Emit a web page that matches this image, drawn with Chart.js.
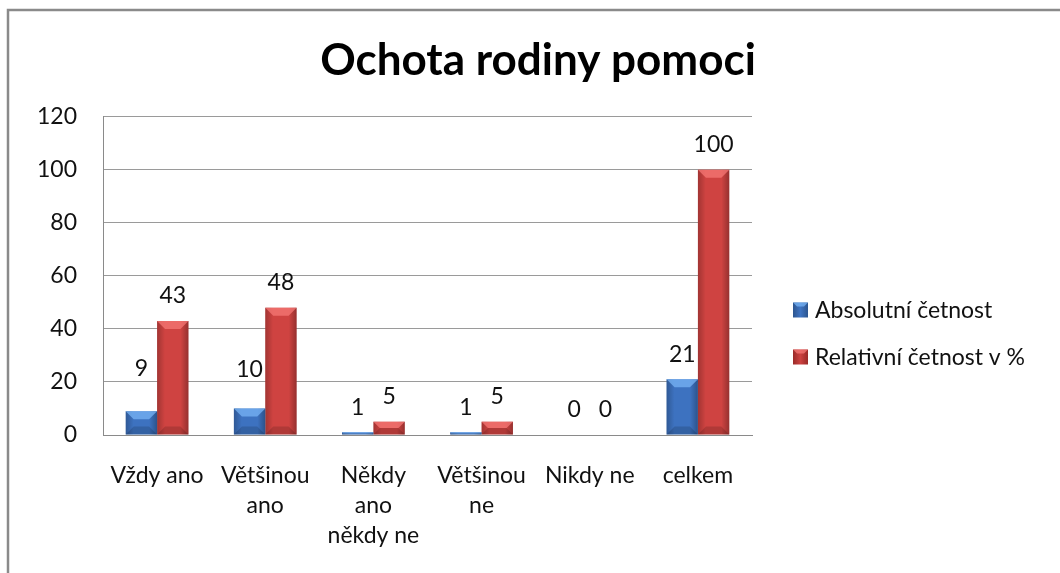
<!DOCTYPE html>
<html>
<head>
<meta charset="utf-8">
<script src="https://cdn.jsdelivr.net/npm/chart.js@4.4.0/dist/chart.umd.min.js"></script>
<style>
html,body{margin:0;padding:0;background:#fff;}
#wrap{width:1060px;height:573px;position:relative;}
</style>
</head>
<body>
<div id="wrap"><canvas id="c" width="1060" height="573"></canvas></div>
<script>
const titleText = "Ochota rodiny pomoci";
const categories = [["Vždy ano"], ["Většinou", "ano"], ["Někdy", "ano", "někdy ne"], ["Většinou", "ne"], ["Nikdy ne"], ["celkem"]];
const seriesNames = ["Absolutní četnost", "Relativní četnost v %"];
const absoluteValues = [9, 10, 1, 1, 0, 21];
const relativeValues = [43, 48, 5, 5, 0, 100];
const yTicks = [0, 20, 40, 60, 80, 100, 120];

const FONT = "Lato, 'Open Sans', sans-serif";
const TXT = 23;

const framePlugin = {
  id: 'frame',
  beforeDraw(chart) {
    const ctx = chart.ctx;
    ctx.save();
    ctx.fillStyle = '#ffffff';
    ctx.fillRect(0, 0, chart.width, chart.height);
    ctx.strokeStyle = '#8a8a8a';
    ctx.lineWidth = 2.5;
    ctx.beginPath();
    ctx.moveTo(8, chart.height + 5);
    ctx.lineTo(8, 10);
    ctx.lineTo(chart.width + 5, 10);
    ctx.stroke();
    ctx.restore();
  }
};

const bevelPlugin = {
  id: 'bevel',
  afterDatasetsDraw(chart) {
    const ctx = chart.ctx;
    ctx.save();
    chart.data.datasets.forEach((ds, di) => {
      const meta = chart.getDatasetMeta(di);
      meta.data.forEach((el) => {
        const p = el.getProps(['x', 'y', 'base', 'width'], true);
        const h = p.base - p.y;
        if (h <= 0.5) return;
        const x0 = p.x - p.width / 2, x1 = p.x + p.width / 2;
        // side shading
        const g = ctx.createLinearGradient(x0, 0, x1, 0);
        g.addColorStop(0, 'rgba(0,0,0,0.22)');
        g.addColorStop(0.25, 'rgba(0,0,0,0)');
        g.addColorStop(0.75, 'rgba(0,0,0,0)');
        g.addColorStop(1, 'rgba(0,0,0,0.28)');
        ctx.fillStyle = g;
        ctx.fillRect(x0, p.y, p.width, h);
        const b = Math.min(8, h / 2);
        // top bevel
        ctx.fillStyle = ds.topColor;
        ctx.beginPath();
        ctx.moveTo(x0, p.y);
        ctx.lineTo(x1, p.y);
        ctx.lineTo(x1 - b, p.y + b);
        ctx.lineTo(x0 + b, p.y + b);
        ctx.closePath();
        ctx.fill();
        // bottom bevel
        ctx.fillStyle = 'rgba(0,0,0,0.15)';
        ctx.beginPath();
        ctx.moveTo(x0, p.base);
        ctx.lineTo(x1, p.base);
        ctx.lineTo(x1 - b, p.base - b);
        ctx.lineTo(x0 + b, p.base - b);
        ctx.closePath();
        ctx.fill();
      });
    });
    ctx.restore();
  }
};

const labelPlugin = {
  id: 'valueLabels',
  afterDatasetsDraw(chart, args, opts) {
    const ctx = chart.ctx;
    ctx.save();
    ctx.font = TXT + 'px ' + FONT;
    ctx.fillStyle = '#111';
    ctx.textAlign = 'center';
    ctx.textBaseline = 'middle';
    chart.data.datasets.forEach((ds, di) => {
      const meta = chart.getDatasetMeta(di);
      meta.data.forEach((el, i) => {
        const lift = (opts.extraLift && opts.extraLift[di] && opts.extraLift[di][i]) || 0;
        ctx.fillText(String(ds.data[i]), el.x, el.y - 25 - lift);
      });
    });
    ctx.restore();
  }
};

const legendPlugin = {
  id: 'sideLegend',
  afterDraw(chart, args, opts) {
    const ctx = chart.ctx;
    ctx.save();
    ctx.font = TXT + 'px ' + FONT;
    ctx.textBaseline = 'middle';
    ctx.textAlign = 'left';
    chart.data.datasets.forEach((ds, i) => {
      const cy = opts.y + i * opts.gap;
      const bx = opts.x;
      const g = ctx.createLinearGradient(bx, 0, bx + 15, 0);
      g.addColorStop(0, ds.edgeColor);
      g.addColorStop(0.5, ds.mainColor);
      g.addColorStop(1, ds.edgeColor);
      ctx.fillStyle = g;
      ctx.fillRect(bx, cy - 7.5, 15, 15);
      ctx.fillStyle = ds.topColor;
      ctx.beginPath();
      ctx.moveTo(bx, cy - 7.5);
      ctx.lineTo(bx + 15, cy - 7.5);
      ctx.lineTo(bx + 11, cy - 3.5);
      ctx.lineTo(bx + 4, cy - 3.5);
      ctx.closePath();
      ctx.fill();
      ctx.fillStyle = '#111';
      ctx.fillText(ds.label, bx + 22, cy + 1);
    });
    ctx.restore();
  }
};

const ctx = document.getElementById('c').getContext('2d');
new Chart(ctx, {
  type: 'bar',
  data: {
    labels: categories,
    datasets: [
      {
        label: seriesNames[0],
        data: absoluteValues,
        mainColor: '#3f74c2', edgeColor: '#2c558f', topColor: 'rgba(120,180,245,0.75)',
        backgroundColor: '#3d72c0',
        borderColor: '#2f5c9c',
        borderWidth: 0,
        categoryPercentage: 0.58,
        barPercentage: 1.0
      },
      {
        label: seriesNames[1],
        data: relativeValues,
        mainColor: '#cc4240', edgeColor: '#9a2a28', topColor: 'rgba(245,120,118,0.75)',
        backgroundColor: '#cf4341',
        borderColor: '#8f2a28',
        borderWidth: 0,
        categoryPercentage: 0.58,
        barPercentage: 1.0
      }
    ]
  },
  options: {
    responsive: false,
    animation: false,
    devicePixelRatio: 1,
    layout: { padding: { left: 16, right: 0, top: 0, bottom: 0 } },
    plugins: {
      legend: { display: false },
      tooltip: { enabled: false },
      title: {
        display: true,
        text: titleText,
        color: '#000',
        font: { family: FONT, size: 44, weight: 'bold', lineHeight: 1.2 },
        padding: { top: 34, bottom: 30 }
      },
      valueLabels: { extraLift: [[18, 14, 0, 0, 0, 0], [0, 0, 0, 0, 0, 0]] },
      sideLegend: { x: 793, y: 310, gap: 47 }
    },
    scales: {
      x: {
        grid: { display: false, drawTicks: false },
        border: { display: true, color: '#8a8a8a', width: 1 },
        ticks: {
          color: '#111',
          font: { family: FONT, size: TXT, lineHeight: 1.3 },
          padding: 26,
          maxRotation: 0,
          autoSkip: false
        },
        afterFit(scale) { scale.height = 138; }
      },
      y: {
        min: 0, max: 120,
        afterBuildTicks(scale) { scale.ticks = yTicks.map(v => ({ value: v })); },
        grid: { color: '#9a9a9a', lineWidth: 1, drawTicks: false },
        border: { display: true, color: '#8a8a8a', width: 1 },
        ticks: {
          color: '#111',
          font: { family: FONT, size: TXT },
          padding: 26
        },
        afterFit(scale) { scale.width = 87; }
      },
      legendSpace: {
        type: 'linear',
        position: 'right',
        display: true,
        grid: { display: false, drawTicks: false },
        border: { display: false },
        ticks: { display: false },
        afterFit(scale) { scale.width = 308; }
      }
    }
  },
  plugins: [framePlugin, bevelPlugin, labelPlugin, legendPlugin]
});
</script>
</body>
</html>
